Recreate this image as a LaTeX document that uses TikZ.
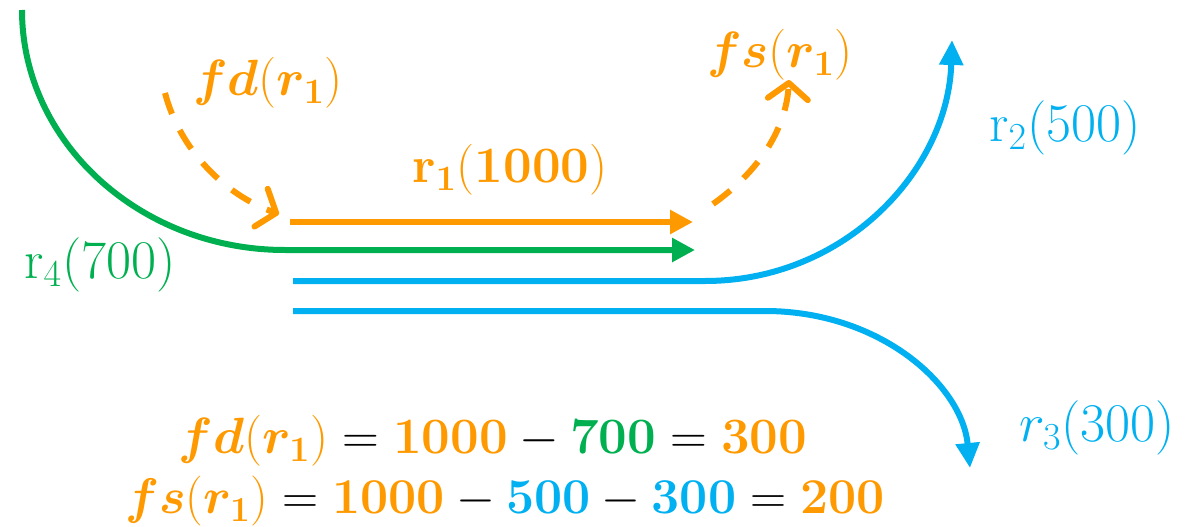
\RequirePackage{fix-cm}
\documentclass[tikz,border=0pt]{standalone}
\usepackage{amsmath, amssymb, bm}
\usetikzlibrary{arrows.meta, positioning, calc}
\definecolor{floworange}{RGB}{255, 153, 0}
\definecolor{flowgreen}{RGB}{0, 176, 80}
\definecolor{flowblue}{RGB}{0, 176, 240}

\begin{document}
\begin{tikzpicture}[x=0.02cm, y=-0.02cm,
    flow/.style={line width=0.12cm},
    dashflow/.style={line width=0.12cm, dash pattern=on 0.44cm off 0.36cm, -{Straight Barb[length=0.32cm, width=0.8cm, round]}},
    lbl/.style={font=\fontsize{29}{35}\selectfont, inner sep=0pt},
    lblthin/.style={font=\fontsize{31}{37}\selectfont, inner sep=0pt}]
  \useasboundingbox (0,0) rectangle (1193,527);

  % end points of the flows
  \coordinate (g0) at (22,10);
  \coordinate (g1) at (285,250);
  \coordinate (g2) at (695,250);
  \coordinate (o0) at (290,222);
  \coordinate (o1) at (693,222);
  \coordinate (b0) at (293,281);
  \coordinate (b1) at (705,281);
  \coordinate (b2) at (952,40);
  \coordinate (c0) at (293,311);
  \coordinate (c1) at (765,311);
  \coordinate (c2) at (970,468);
  \coordinate (fd0) at (165,93);
  \coordinate (fd1) at (279,214);
  \coordinate (fs0) at (713,204);
  \coordinate (fs1) at (789,80);

  % r4 (green)
  \draw[flow, flowgreen, -{Triangle[length=0.46cm, width=0.46cm]}]
    (g0) .. controls (22,142) and (140,250) .. (g1) -- (g2);
  % r1 (orange)
  \draw[flow, floworange, -{Triangle[length=0.46cm, width=0.46cm]}] (o0) -- (o1);
  % r2 (blue)
  \draw[flow, flowblue, -{Triangle[length=0.5cm, width=0.46cm]}]
    (b0) -- (b1) .. controls (845,281) and (948,170) .. (b2);
  % r3 (blue)
  \draw[flow, flowblue, -{Triangle[length=0.5cm, width=0.46cm]}]
    (c0) -- (c1) .. controls (880,311) and (962,385) .. (c2);

  % fd and fs
  \draw[dashflow, floworange] (fd0) .. controls (180,150) and (225,195) .. (fd1);
  \draw[dashflow, floworange] (fs0) .. controls (758,172) and (786,130) .. (fs1);

  % labels
  \node[lbl, text=floworange] (fdlbl) at (268,83) {$\bm{fd}(\bm{r}_{\mathbf{1}})$};
  \node[lbl, text=floworange] (fslbl) at (780,55) {$\bm{fs}(\bm{r}_{\mathbf{1}})$};
  \node[lbl, text=floworange] (r1lbl) at (510,170) {$\mathbf{r_1(1000)}$};
  \node[lblthin, text=flowgreen] (r4lbl) at (100,265) {$\mathrm{r}_4(700)$};
  \node[lblthin, text=flowblue] (r2lbl) at (1065,128) {$\mathrm{r}_2(500)$};
  \node[lblthin, text=flowblue] (r3lbl) at (1097,428) {$r_3(300)$};

  % equations
  \node[lbl] (eqfd) at (493,441) {$\color{floworange}\bm{fd}(\bm{r}_{\mathbf{1}}) \color{black}= \color{floworange}\mathbf{1000} \color{black}- \color{flowgreen}\mathbf{700} \color{black}= \color{floworange}\mathbf{300}$};
  \node[lbl, font=\fontsize{28.5}{34}\selectfont] (eqfs) at (505,501) {$\color{floworange}\bm{fs}(\bm{r}_{\mathbf{1}}) \color{black}= \color{floworange}\mathbf{1000} \color{black}- \color{flowblue}\mathbf{500} \color{black}- \color{flowblue}\mathbf{300} \color{black}= \color{floworange}\mathbf{200}$};
\end{tikzpicture}
\end{document}
